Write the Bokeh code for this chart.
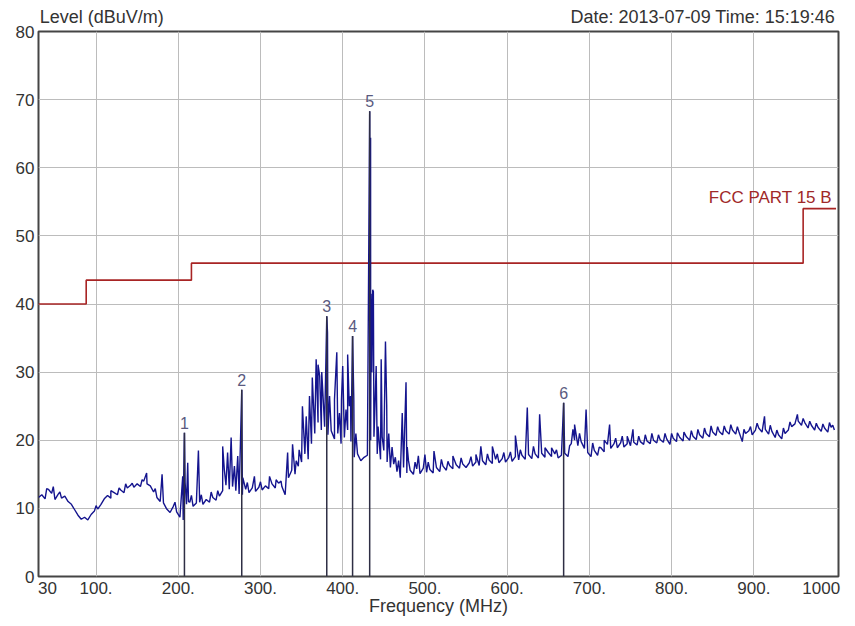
import numpy as np
from bokeh.plotting import figure
from bokeh.models import FixedTicker, Label, Range1d, LinearAxis
from bokeh.core.properties import value
from bokeh.embed import file_html
from bokeh.resources import INLINE

# ---------------- data ----------------
# measured trace, sampled every 4 MHz from 30 MHz
base_freq = np.arange(30, 1000, 4)
base_level = [
    11.6, 12.0, 11.4, 12.8, 12.2, 11.3, 12.1, 11.5, 11.8, 11.0,
    10.6, 9.8, 9.0, 8.4, 8.7, 8.3, 9.1, 9.6, 9.9, 10.6,
    11.4, 11.9, 11.5, 12.3, 12.0, 12.7, 12.3, 13.0, 13.4, 13.1,
    13.6, 13.2, 14.0, 13.6, 13.3, 12.4, 11.6, 11.0, 10.8, 9.9,
    9.4, 10.3, 9.5, 8.7, 8.3, 10.6, 10.9, 10.3, 10.8, 10.9,
    10.6, 11.3, 10.9, 11.6, 11.2, 11.8, 12.6, 13.4, 12.8, 13.2,
    12.6, 12.1, 12.0, 12.8, 12.3, 13.0, 12.5, 13.1, 12.7, 13.3,
    12.9, 13.6, 13.0, 13.7, 13.2, 12.0, 14.5, 15.6, 15.0, 16.2,
    16.8, 18.0, 17.2, 19.5, 21.0, 22.6, 21.5, 22.0, 20.8, 21.4,
    20.2, 21.0, 19.5, 20.4, 21.5, 19.8, 17.5, 18.0, 17.0, 17.5,
    17.8, 20.0, 20.5, 18.0, 17.2, 18.5, 16.8, 16.0, 16.5, 15.4,
    14.5, 16.0, 15.2, 15.6, 15.0, 15.8, 15.1, 15.9, 15.3, 15.7,
    15.2, 16.0, 15.4, 16.2, 15.6, 16.3, 15.8, 16.4, 15.9, 16.5,
    16.0, 16.7, 16.2, 16.8, 16.3, 17.0, 16.4, 17.1, 16.6, 17.2,
    16.7, 17.3, 16.8, 17.5, 16.9, 17.6, 17.1, 17.8, 17.2, 17.9,
    17.3, 18.0, 17.4, 18.1, 17.5, 18.2, 17.6, 18.0, 17.4, 17.8,
    18.1, 17.6, 19.5, 20.0, 19.2, 19.8, 18.8, 18.2, 17.6, 18.5,
    17.8, 18.9, 18.3, 19.4, 18.8, 19.5, 18.9, 19.6, 19.0, 19.5,
    19.2, 19.7, 19.3, 19.8, 19.4, 19.9, 19.5, 20.0, 19.6, 20.1,
    19.7, 20.2, 19.4, 20.3, 19.8, 20.4, 19.9, 20.5, 20.0, 20.6,
    20.1, 20.8, 20.3, 21.0, 20.5, 21.2, 20.7, 21.3, 20.8, 21.4,
    20.9, 21.5, 20.9, 21.2, 19.8, 21.0, 21.4, 20.8, 21.5, 21.8,
    21.2, 21.6, 20.9, 21.3, 20.4, 20.8, 20.2, 21.0, 21.5, 22.0,
    22.4, 22.8, 22.2, 22.6, 21.8, 22.2, 21.5, 21.9, 21.3, 21.8,
    21.2, 21.9, 21.5,
]

# narrow emissions / noise spikes on the trace
spike_freq = [
    40, 48, 56, 100, 118, 128, 136, 144, 156, 161.5, 172, 180.3, 196,
    205.4, 206.6, 207.5, 208.3, 211.5, 212.4, 216, 224.5, 228, 240, 248,
    254, 256, 260, 264.3, 268.3, 272.3, 275.6, 277.2, 278.5,
    284, 292.6, 300, 311, 319, 325, 333, 339, 343.4, 347,
    351, 355.6, 359.6, 363, 367.7, 370, 372, 374.5, 376.5, 380.6, 381.5,
    384, 390, 392.8, 396, 398.5, 400, 404, 406, 408, 409.5, 412, 413.5, 416,
    432.8, 433.4, 433.9, 434.6, 435.5, 436.5, 437.3, 439.0, 440.7, 443,
    446.8, 448, 452, 453.5, 456, 460, 464, 468, 472.4, 474.5, 477, 478.5,
    480, 488, 492, 500, 504, 511, 520, 528, 534, 544, 556, 562, 568, 576,
    582, 588, 596, 604, 610, 616, 624.5, 632, 639.5, 646, 654, 660, 668.7,
    676, 680, 682, 688, 696, 704, 712, 718, 724.6, 732, 740, 746, 753, 760,
    768, 776, 784, 792, 800, 807, 815, 824, 832, 840, 848, 856, 864, 872,
    880, 888, 896, 904, 913, 920, 928, 936, 944, 953, 960, 968, 976, 984,
    992, 996,
]
spike_level = [
    12.9, 13.2, 12.4, 10.4, 12.6, 13.0, 13.6, 13.7, 14.2, 15.2, 12.9, 15.0, 10.9,
    14.7, 14.7, 21.1, 13.8, 16.7, 11.0, 11.9, 18.5, 12.0, 12.4, 12.6,
    19.1, 15.7, 18.2, 20.4, 16.2, 17.7, 19.6, 27.4, 14.5,
    13.8, 14.7, 13.9, 14.7, 14.2, 14.0, 18.2, 19.4, 17.0, 18.6,
    25.0, 23.5, 26.5, 29.2, 31.9, 31.1, 29.4, 30.0, 25.5, 38.2, 35.8,
    26.5, 26.0, 32.9, 24.0, 26.0, 30.9, 24.5, 32.6, 25.0, 26.5, 35.3, 26.0, 21.0,
    68.3, 22.0, 64.4, 41.5, 30.0, 42.1, 41.8, 24.0, 30.9, 22.0,
    31.9, 20.5, 34.5, 25.2, 21.0, 19.0, 17.5, 17.0, 24.0, 18.0, 28.5, 19.0,
    17.0, 16.8, 17.7, 17.9, 16.8, 18.4, 17.2, 16.9, 17.7, 17.4, 17.6, 17.9, 19.1, 18.0,
    19.1, 18.0, 18.2, 18.3, 20.7, 18.6, 24.8, 19.1, 23.8, 18.9, 18.9, 18.6, 25.5,
    19.2, 21.6, 22.3, 21.0, 24.5, 19.6, 19.0, 20.0, 22.3, 20.3, 20.6, 20.6, 21.6, 20.6,
    20.8, 21.0, 20.8, 21.0, 21.0, 21.1, 21.2, 21.4, 21.6, 21.8, 22.1, 22.0, 22.1, 22.3,
    22.0, 21.6, 22.0, 22.5, 23.5, 22.2, 21.5, 21.8, 22.7, 23.8, 23.2, 22.8, 22.5, 22.4,
    22.6, 22.2,
]

# FCC Part 15 B (class B, 3 m) limit
limit_freq = [30, 88, 216, 960, 1000]
limit_level = [40, 43.5, 46, 54, 54]

# peak markers
marker_id = ["1", "2", "3", "4", "5", "6"]
marker_freq = [207.5, 277.2, 380.6, 412, 432.8, 668.7]
marker_level = [21.1, 27.4, 38.2, 35.3, 68.3, 25.5]

y_ticks = [0, 10, 20, 30, 40, 50, 60, 70, 80]
x_grid = [100, 200, 300, 400, 500, 600, 700, 800, 900]
x_tick_pos = [41, 100, 200, 300, 400, 500, 600, 700, 800, 900, 982]
x_tick_text = ["30", "100.", "200.", "300.", "400.", "500.", "600.", "700.",
               "800.", "900.", "1000"]

# header texts (placed along the top edge)
header_pos = [107, 841]
header_text = ["Level (dBuV/m)", "Date: 2013-07-09  Time: 15:19:46"]

# merge trace samples with the spikes
all_f = np.concatenate([base_freq, np.array(spike_freq, dtype=float)])
all_l = np.concatenate([np.array(base_level, dtype=float), np.array(spike_level, dtype=float)])
order = np.argsort(all_f, kind="stable")
trace_f = all_f[order]
trace_l = all_l[order]

# ---------------- figure ----------------
FONT = "Liberation Sans"
TXT = "#333333"
p = figure(width=850, height=622, output_backend="svg", toolbar_location=None,
           x_range=Range1d(30, 1003), y_range=Range1d(0, 80),
           min_border_left=38, min_border_right=12, min_border_top=31,
           min_border_bottom=46)
p.background_fill_color = "white"
p.border_fill_color = "white"
p.outline_line_color = "#454545"
p.outline_line_width = 2

p.xgrid.ticker = FixedTicker(ticks=x_grid)
p.ygrid.ticker = FixedTicker(ticks=y_ticks[1:-1])
for g in (p.xgrid, p.ygrid):
    g.grid_line_color = "#bcbcbc"
    g.grid_line_width = 1

bottom_axis = p.below[0]
left_axis = p.left[0]
bottom_axis.ticker = FixedTicker(ticks=x_tick_pos)
bottom_axis.major_label_overrides = {k: v for k, v in zip(x_tick_pos, x_tick_text)}
left_axis.ticker = FixedTicker(ticks=y_ticks)

top_axis = LinearAxis(ticker=FixedTicker(ticks=header_pos),
                      major_label_overrides={k: v for k, v in zip(header_pos, header_text)})
p.add_layout(top_axis, "above")

for ax in (bottom_axis, left_axis, top_axis):
    ax.axis_line_color = None
    ax.major_tick_line_color = None
    ax.minor_tick_line_color = None
    ax.major_tick_out = 0
    ax.major_tick_in = 0
    ax.major_label_text_font = FONT
    ax.major_label_text_font_size = "17px"
    ax.major_label_text_color = TXT
top_axis.major_label_text_font_size = "18px"
top_axis.major_label_standoff = 5
bottom_axis.major_label_standoff = 5
left_axis.major_label_standoff = 4
bottom_axis.axis_label = "Frequency (MHz)"
bottom_axis.axis_label_text_font = FONT
bottom_axis.axis_label_text_font_size = "18px"
bottom_axis.axis_label_text_font_style = "normal"
bottom_axis.axis_label_text_color = TXT
bottom_axis.axis_label_standoff = -1

# limit line
p.step(limit_freq, limit_level, mode="after", line_color="#a82424", line_width=1.6)

# measured trace
p.line(trace_f, trace_l, line_color="#14148e", line_width=1.4)

# marker lines and ids
p.segment(x0=marker_freq, y0=[0] * len(marker_freq), x1=marker_freq, y1=marker_level,
          line_color="#2e2e44", line_width=1.5)
p.text(x=marker_freq, y=marker_level, text=marker_id, text_align="center",
       text_baseline="bottom", y_offset=-4, text_font=value(FONT),
       text_font_size="16px", text_color="#5a5a80")

p.add_layout(Label(x=995, y=54.3, text="FCC PART 15 B", text_align="right",
                   text_baseline="bottom", text_font=FONT, text_font_size="17px",
                   text_color="#a02828"))

open("out.html", "w").write(file_html(p, INLINE))
